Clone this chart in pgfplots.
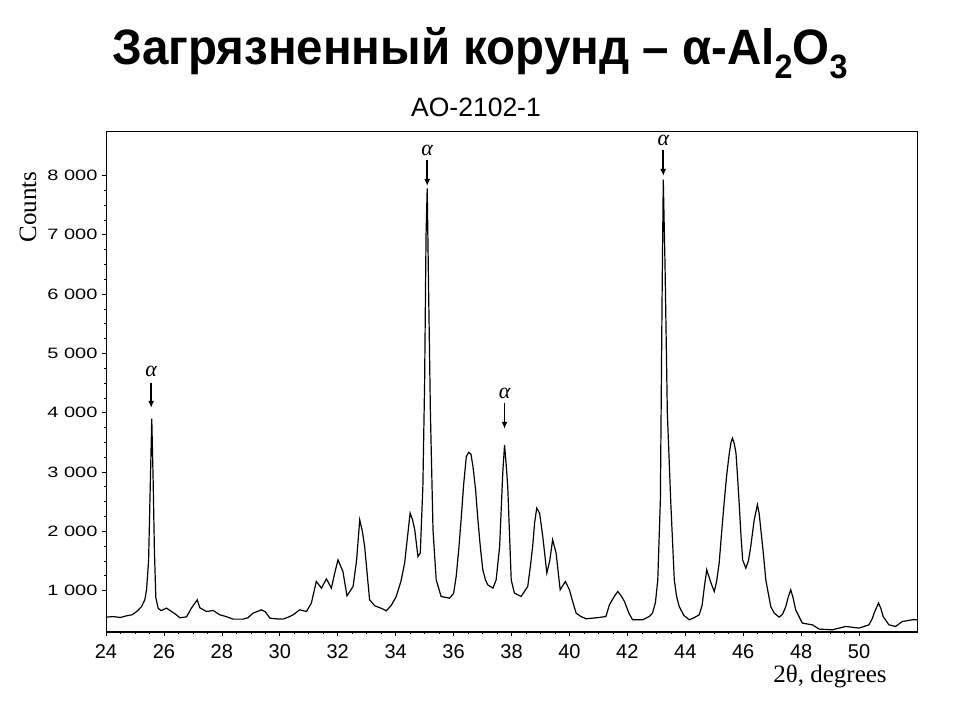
\documentclass[border=0pt]{standalone}
\usepackage{pgfplots}
\pgfplotsset{compat=1.18}
\usepackage{fontspec}
\setmainfont{Liberation Sans}
\newfontfamily\seriffont{Liberation Serif}
\usetikzlibrary{arrows.meta}
\pgfplotstableread{
x y
24.00 551
24.25 560
24.50 545
24.71 573
24.90 590
25.06 646
25.23 730
25.34 843
25.40 1010
25.47 1500
25.53 2800
25.58 3900
25.63 2800
25.67 1700
25.72 880
25.80 700
25.90 660
26.09 703
26.26 646
26.40 600
26.55 540
26.78 556
26.95 703
27.15 843
27.24 708
27.47 646
27.70 663
27.93 590
28.15 560
28.39 517
28.73 517
28.90 540
29.08 619
29.37 674
29.50 640
29.66 534
29.90 520
30.11 517
30.34 560
30.46 590
30.69 674
30.92 646
31.09 787
31.26 1152
31.44 1040
31.61 1197
31.78 1040
31.90 1300
32.01 1517
32.18 1320
32.32 910
32.53 1067
32.65 1500
32.76 2192
32.85 2000
32.93 1742
33.10 843
33.28 742
33.50 700
33.68 658
33.85 750
34.02 899
34.18 1150
34.31 1462
34.42 1950
34.50 2305
34.58 2200
34.66 2023
34.77 1573
34.85 1630
34.94 2753
35.00 4500
35.05 7000
35.09 7780
35.14 6000
35.20 4000
35.29 2023
35.40 1180
35.57 899
35.86 871
36.00 950
36.09 1236
36.18 1700
36.26 2192
36.35 2800
36.44 3259
36.52 3330
36.60 3300
36.67 3090
36.76 2700
36.84 2192
36.93 1700
37.01 1349
37.10 1180
37.18 1096
37.36 1040
37.47 1180
37.59 1742
37.70 3000
37.76 3456
37.82 3100
37.87 2753
37.99 1180
38.10 956
38.33 899
38.56 1067
38.65 1400
38.73 1742
38.80 2150
38.87 2389
38.97 2305
39.08 1910
39.22 1293
39.32 1500
39.42 1855
39.54 1630
39.68 1012
39.86 1152
40.00 1012
40.12 800
40.23 619
40.40 560
40.58 523
41.03 545
41.26 562
41.38 759
41.55 900
41.67 983
41.80 900
41.90 815
42.05 620
42.18 506
42.53 506
42.75 560
42.87 619
42.97 800
43.05 1180
43.14 2529
43.20 6000
43.24 7930
43.30 6500
43.38 4000
43.50 2473
43.62 1180
43.70 900
43.79 730
43.95 580
44.14 506
44.30 540
44.48 590
44.58 750
44.66 1067
44.74 1349
44.89 1124
45.00 983
45.08 1150
45.17 1462
45.25 1950
45.34 2473
45.43 2950
45.52 3316
45.58 3500
45.63 3569
45.69 3480
45.75 3316
45.80 2950
45.86 2473
45.92 1950
45.98 1517
46.09 1377
46.18 1500
46.26 1742
46.38 2192
46.49 2445
46.55 2300
46.61 2023
46.70 1600
46.78 1180
46.95 730
47.07 619
47.24 551
47.36 600
47.47 730
47.56 900
47.64 1012
47.72 880
47.81 674
48.04 450
48.39 421
48.62 349
49.08 337
49.54 393
50.00 366
50.34 421
50.45 520
50.52 619
50.67 787
50.75 700
50.83 562
51.03 421
51.26 393
51.49 477
51.84 506
52.00 506
}\xrd
\begin{document}
\begin{tikzpicture}
\useasboundingbox (0,0) rectangle (960bp,720bp);
\node[anchor=base, inner sep=0] at (480bp,655bp) {\resizebox{735bp}{37bp}{\bfseries Загрязненный корунд – α-Al\raisebox{-2.8pt}{\scalebox{0.68}{2}}O\raisebox{-2.8pt}{\scalebox{0.68}{3}}}};
\node[font=\fontsize{26.5bp}{30bp}\selectfont] at (476bp,613bp) {AO-2102-1};
\node[rotate=90, font=\seriffont\fontsize{25bp}{28bp}\selectfont] at (28bp,513bp) {Counts};
\node[anchor=base, inner sep=0, font=\seriffont\fontsize{25bp}{27bp}\selectfont] at (830bp,38bp) {2θ, degrees};
\begin{axis}[
  at={(106bp,88bp)}, anchor=south west,
  scale only axis, width=811bp, height=501bp,
  xmin=24, xmax=52, ymin=300, ymax=8750,
  xtick={24,26,28,30,32,34,36,38,40,42,44,46,48,50},
  xticklabels={24,26,28,30,32,34,36,38,40,42,44,46,48,50},
  ytick={1000,2000,3000,4000,5000,6000,7000,8000},
  yticklabels={\scalebox{1}[0.75]{1 000},\scalebox{1}[0.75]{2 000},\scalebox{1}[0.75]{3 000},\scalebox{1}[0.75]{4 000},\scalebox{1}[0.75]{5 000},\scalebox{1}[0.75]{6 000},\scalebox{1}[0.75]{7 000},\scalebox{1}[0.75]{8 000}},
  minor x tick num=3, minor y tick num=3,
  tick pos=left, tick align=outside,
  major tick length=4bp, minor tick length=2bp,
  tick style={black, line width=0.6bp},
  axis line style={line width=0.9bp},
  xticklabel style={font=\fontsize{20bp}{24bp}\selectfont, inner sep=1bp, text height=14.5bp, text depth=0bp, yshift=-7bp},
  yticklabel style={font=\fontsize{20bp}{24bp}\selectfont, xshift=-1bp},
]
\addplot[black, line width=1.2bp] table[x=x, y=y] {\xrd};
\draw[line width=2bp] (rel axis cs:0,0) -- (rel axis cs:1,0);
\draw[-{Latex[length=7bp,width=6bp]}, line width=1.6bp] (axis cs:25.56,4500) -- (axis cs:25.56,4080);
\node[font=\seriffont\itshape\fontsize{22bp}{24bp}\selectfont] at (axis cs:25.56,4690) {α};
\draw[-{Latex[length=7bp,width=6bp]}, line width=1.6bp] (axis cs:35.09,8261) -- (axis cs:35.09,7823);
\node[font=\seriffont\itshape\fontsize{22bp}{24bp}\selectfont] at (axis cs:35.09,8420) {α};
\draw[-{Latex[length=7bp,width=6bp]}, line width=1.6bp] (axis cs:37.76,4164) -- (axis cs:37.76,3726);
\node[font=\seriffont\itshape\fontsize{22bp}{24bp}\selectfont] at (axis cs:37.76,4320) {α};
\draw[-{Latex[length=7bp,width=6bp]}, line width=1.6bp] (axis cs:43.24,8430) -- (axis cs:43.24,7992);
\node[font=\seriffont\itshape\fontsize{22bp}{24bp}\selectfont] at (axis cs:43.24,8585) {α};
\end{axis}
\end{tikzpicture}
\end{document}
